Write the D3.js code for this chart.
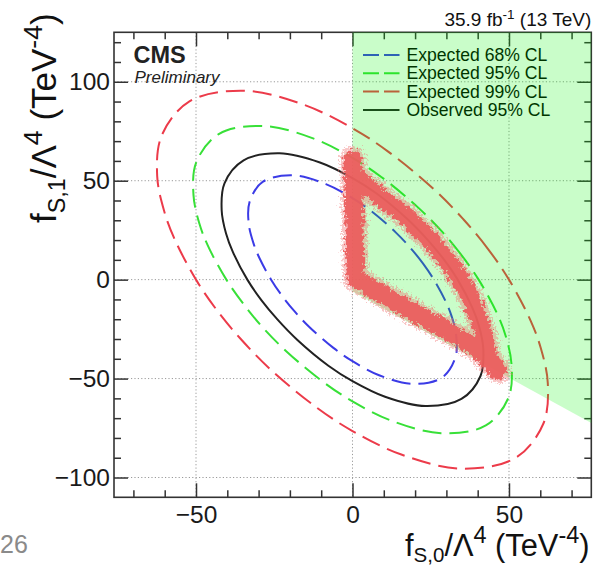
<!DOCTYPE html>
<html>
<head>
<meta charset="utf-8">
<script src="https://cdn.jsdelivr.net/npm/d3@7"></script>
<style>
  body { margin: 0; background: #fff; }
  svg { display: block; }
  text { font-family: "Liberation Sans", Arial, Helvetica, sans-serif; }
</style>
</head>
<body>
<svg id="chart" width="604" height="566"></svg>
<script>
// ---- axis ranges and ticks ----
const xDomain = [-76.2, 76.3];
const yDomain = [-110, 125];
const majorX = [-50, 0, 50];
const minorX = [-70, -60, -40, -30, -20, -10, 10, 20, 30, 40, 60, 70];
const majorY = [-100, -50, 0, 50, 100];
const minorY = [-90, -80, -70, -60, -40, -30, -20, -10, 10, 20, 30, 40, 60, 70, 80, 90, 110, 120];

// ---- 2D limit contours in (fS0, fS1), TeV^-4 ----
const expected68 = [
  [26, 0], [22.5, 8.2], [18.7, 15.7], [13.8, 23.9], [6.1, 34.5], [0, 41.2], [-8.5, 48.3],
  [-19.2, 52.7], [-28.6, 49.5], [-32.9, 39.2], [-33.1, 27.7], [-31.6, 18.2], [-29.7, 10.8],
  [-26, 0], [-22.5, -8.2], [-18.7, -15.7], [-13.8, -23.9], [-6.1, -34.5], [0, -41.2], [8.5, -48.3],
  [19.2, -52.7], [28.6, -49.5], [32.9, -39.2], [33.1, -27.7], [31.6, -18.2], [29.7, -10.8]
];
const expected95 = [
  [40.3, 0], [34.7, 12.6], [28.7, 24.1], [21, 36.4], [9.2, 51.9], [0, 61.5], [-12.6, 71.4],
  [-28.3, 77.6], [-42.6, 73.7], [-49.9, 59.4], [-50.8, 42.7], [-48.9, 28.2], [-46.1, 16.8],
  [-40.3, 0], [-34.7, -12.6], [-28.7, -24.1], [-21, -36.4], [-9.2, -51.9], [0, -61.5], [12.6, -71.4],
  [28.3, -77.6], [42.6, -73.7], [49.9, -59.4], [50.8, -42.7], [48.9, -28.2], [46.1, -16.8]
];
const expected99 = [
  [50, 0], [43.2, 15.7], [35.7, 30], [26.2, 45.4], [11.4, 64.7], [0, 76.5], [-15.6, 88.4],
  [-34.8, 95.5], [-52.1, 90.1], [-61, 72.7], [-62.4, 52.3], [-60.2, 34.8], [-56.9, 20.7],
  [-50, 0], [-43.2, -15.7], [-35.7, -30], [-26.2, -45.4], [-11.4, -64.7], [0, -76.5], [15.6, -88.4],
  [34.8, -95.5], [52.1, -90.1], [61, -72.7], [62.4, -52.3], [60.2, -34.8], [56.9, -20.7]
];
const observed95 = [
  [33.6, 0], [29, 10.6], [24, 20.1], [17.6, 30.5], [7.7, 43.5], [0, 51.3], [-10.4, 59.2],
  [-23.3, 63.9], [-34.8, 60.3], [-40.9, 48.7], [-41.8, 35.1], [-40.4, 23.3], [-38.2, 13.9],
  [-33.6, 0], [-29, -10.6], [-24, -20.1], [-17.6, -30.5], [-7.7, -43.5], [0, -51.3], [10.4, -59.2],
  [23.3, -63.9], [34.8, -60.3], [40.9, -48.7], [41.8, -35.1], [40.4, -23.3], [38.2, -13.9]
];

// region allowed by the positivity constraints
const allowedRegion = [[0, 125], [76.3, 125], [76.3, -72.5], [0, -6]];

// scanned parameter points on the boundary of the allowed region (band centre line)
const scanBand = [
  [0, 61], [0.6, 30], [1, 0.5], [15, -12.5], [30, -25.5], [40, -35], [46.5, -46],
  [43.5, -40], [42, -27.3], [39.8, -17.2], [36.6, -5.4], [31.2, 8.1], [24.9, 19.9],
  [17.4, 31.6], [8.9, 41.7], [0.5, 53]
];

const legendLabels = ["Expected 68% CL", "Expected 95% CL", "Expected 99% CL", "Observed 95% CL"];

// ---- styles ----
const series = [
  { data: expected68, color: "#3b3be6", dash: "19,8", legendDash: "16,5" },
  { data: expected95, color: "#38e038", dash: "19,8", legendDash: "16,5" },
  { data: expected99, color: "#ec3b4a", dash: "19,8", legendDash: "16,5" },
  { data: observed95, color: "#222222", dash: null, legendDash: null }
];

const svg = d3.select("#chart");
const x = d3.scaleLinear().domain(xDomain).range([114, 591.3]);
const y = d3.scaleLinear().domain(yDomain).range([497.3, 32.3]);
const [x0, x1] = x.range();
const [y0, y1] = [y.range()[1], y.range()[0]]; // top, bottom

svg.append("rect").attr("width", 604).attr("height", 566).attr("fill", "#fff");

const defs = svg.append("defs");
defs.append("clipPath").attr("id", "frameClip")
  .append("rect").attr("x", x0).attr("y", y0).attr("width", x1 - x0).attr("height", y1 - y0);

function roughFilter(id, freq, scale, seed) {
  const f = defs.append("filter").attr("id", id)
    .attr("x", "-20%").attr("y", "-20%").attr("width", "140%").attr("height", "140%");
  f.append("feTurbulence").attr("type", "fractalNoise").attr("baseFrequency", freq)
    .attr("numOctaves", 3).attr("seed", seed).attr("result", "noise");
  f.append("feDisplacementMap").attr("in", "SourceGraphic").attr("in2", "noise")
    .attr("scale", scale).attr("xChannelSelector", "R").attr("yChannelSelector", "G");
}
roughFilter("roughHalo", 0.45, 14, 3);
roughFilter("roughCore", 0.3, 10, 11);

// ---- grid ----
const grid = svg.append("g").attr("stroke", "#9a9a9a").attr("stroke-width", 1)
  .attr("stroke-dasharray", "1.2,2.2");
grid.selectAll("line.gx").data(majorX).join("line")
  .attr("x1", d => x(d)).attr("x2", d => x(d)).attr("y1", y0).attr("y2", y1);
grid.selectAll("line.gy").data(majorY).join("line")
  .attr("y1", d => y(d)).attr("y2", d => y(d)).attr("x1", x0).attr("x2", x1);

// ---- contours ----
const line = d3.line().x(d => x(d[0])).y(d => y(d[1])).curve(d3.curveCatmullRomClosed.alpha(0.5));
const cg = svg.append("g").attr("clip-path", "url(#frameClip)");
series.forEach(s => {
  cg.append("path").attr("d", line(s.data)).attr("fill", "none")
    .attr("stroke", s.color).attr("stroke-width", 2)
    .attr("stroke-dasharray", s.dash);
});

// ---- axes (ticks inward on all four sides) ----
function styleAxis(g) {
  g.select(".domain").remove();
  g.selectAll(".tick line").attr("stroke", "#333").attr("stroke-width", 1.5);
  g.selectAll(".tick text").attr("fill", "#1a1a1a").attr("font-size", 24.5)
    .attr("font-family", "'Liberation Sans', Arial, sans-serif");
}
const noLab = () => "";
const fmt = d3.format("d");
svg.append("g").attr("transform", `translate(0,${y1})`)
  .call(d3.axisBottom(x).tickValues(minorX).tickSize(-7).tickFormat(noLab)).call(styleAxis);
svg.append("g").attr("transform", `translate(0,${y1})`)
  .call(d3.axisBottom(x).tickValues(majorX).tickSize(-14).tickPadding(8).tickFormat(fmt)).call(styleAxis);
svg.append("g").attr("transform", `translate(0,${y0})`)
  .call(d3.axisTop(x).tickValues(minorX).tickSize(-7).tickFormat(noLab)).call(styleAxis);
svg.append("g").attr("transform", `translate(0,${y0})`)
  .call(d3.axisTop(x).tickValues(majorX).tickSize(-14).tickFormat(noLab)).call(styleAxis);
svg.append("g").attr("transform", `translate(${x0},0)`)
  .call(d3.axisLeft(y).tickValues(minorY).tickSize(-7).tickFormat(noLab)).call(styleAxis);
svg.append("g").attr("transform", `translate(${x0},0)`)
  .call(d3.axisLeft(y).tickValues(majorY).tickSize(-14).tickPadding(4).tickFormat(fmt)).call(styleAxis);
svg.append("g").attr("transform", `translate(${x1},0)`)
  .call(d3.axisRight(y).tickValues(minorY).tickSize(-7).tickFormat(noLab)).call(styleAxis);
svg.append("g").attr("transform", `translate(${x1},0)`)
  .call(d3.axisRight(y).tickValues(majorY).tickSize(-14).tickFormat(noLab)).call(styleAxis);

svg.append("rect").attr("x", x0).attr("y", y0).attr("width", x1 - x0).attr("height", y1 - y0)
  .attr("fill", "none").attr("stroke", "#333").attr("stroke-width", 1.6);

// ---- legend ----
const lg = svg.append("g");
const rowY = i => 55 + i * 18.3;
series.forEach((s, i) => {
  lg.append("line").attr("x1", 363).attr("x2", 399.5).attr("y1", rowY(i)).attr("y2", rowY(i))
    .attr("stroke", s.color).attr("stroke-width", 2).attr("stroke-dasharray", s.legendDash);
  lg.append("text").attr("x", 406.5).attr("y", rowY(i) + 6).attr("font-size", 17.6)
    .attr("fill", "#000").text(legendLabels[i]);
});

// ---- labels ----
svg.append("text").attr("x", 133.5).attr("y", 62.5).attr("font-size", 23.5)
  .attr("font-weight", "bold").attr("fill", "#222").text("CMS");
svg.append("text").attr("x", 134.5).attr("y", 82.5).attr("font-size", 17)
  .attr("font-style", "italic").attr("fill", "#222").text("Preliminary");

const lumi = svg.append("text").attr("x", x1).attr("y", 26).attr("text-anchor", "end")
  .attr("font-size", 19).attr("fill", "#111");
lumi.append("tspan").text("35.9 fb");
lumi.append("tspan").attr("font-size", 13.5).attr("dy", -7.5).text("-1");
lumi.append("tspan").attr("dy", 7.5).text(" (13 TeV)");

function axisTitle(sel, sub, big, subShift) {
  const subSize = big * 0.667, supSize = big * 0.76, dSub = big * subShift, dSup = big * 0.41;
  sel.attr("font-size", big).attr("fill", "#111");
  sel.append("tspan").text("f");
  sel.append("tspan").attr("font-size", subSize).attr("dy", dSub).text(sub);
  sel.append("tspan").attr("dy", -dSub).text("/\u039B");
  sel.append("tspan").attr("font-size", supSize).attr("dy", -dSup).text("4");
  sel.append("tspan").attr("dy", dSup).text(" (TeV");
  sel.append("tspan").attr("font-size", supSize).attr("dy", -dSup).text("-4");
  sel.append("tspan").attr("dy", dSup).text(")");
}
axisTitle(svg.append("text").attr("x", 589.5).attr("y", 556).attr("text-anchor", "end"),
  "S,0", 30.8, 0.18);
axisTitle(svg.append("text").attr("transform", "translate(56,223) rotate(-90)")
  .attr("text-anchor", "start"), "S,1", 35, 0.25);

svg.append("text").attr("x", 0).attr("y", 553).attr("font-size", 25)
  .attr("font-family", "'Open Sans', sans-serif").attr("fill", "#8a8a8a").text("26");

// ---- allowed region overlay ----
svg.append("path")
  .attr("d", d3.line().x(d => x(d[0])).y(d => y(d[1]))(allowedRegion) + "Z")
  .attr("fill", "rgb(0,245,0)").attr("fill-opacity", 0.21);

// ---- scanned points band ----
const band = d3.line().x(d => x(d[0])).y(d => y(d[1])).curve(d3.curveLinearClosed);
const bg = svg.append("g").attr("clip-path", "url(#frameClip)");
bg.append("path").attr("d", band(scanBand)).attr("fill", "none")
  .attr("stroke", "#f07272").attr("stroke-opacity", 0.4).attr("stroke-width", 25)
  .attr("stroke-linejoin", "round").attr("filter", "url(#roughHalo)");
bg.append("path").attr("d", band(scanBand)).attr("fill", "none")
  .attr("stroke", "#ec5c5c").attr("stroke-opacity", 0.92).attr("stroke-width", 18)
  .attr("stroke-linejoin", "round").attr("filter", "url(#roughCore)");
</script>
</body>
</html>
